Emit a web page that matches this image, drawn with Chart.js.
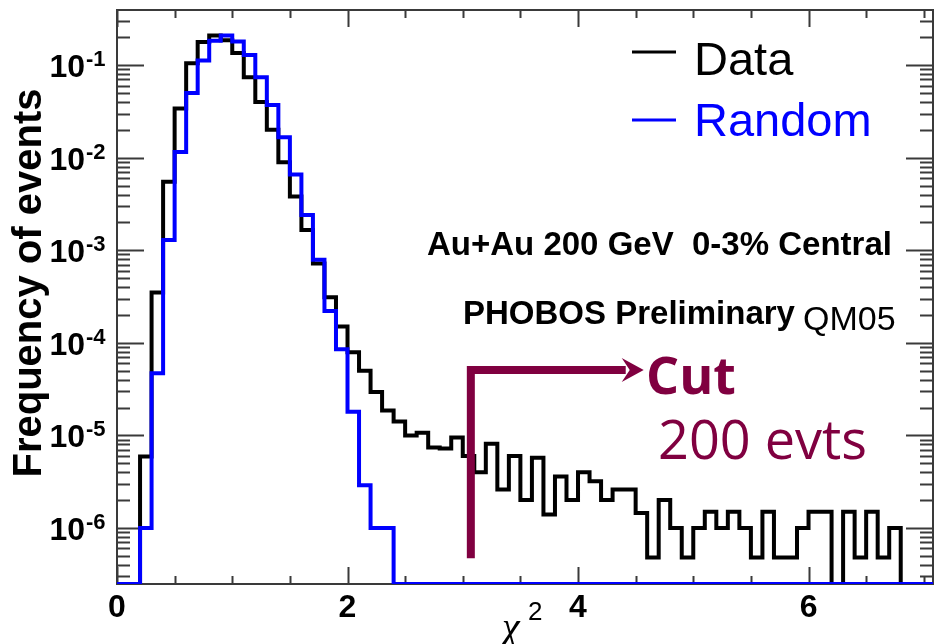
<!DOCTYPE html>
<html>
<head>
<meta charset="utf-8">
<script src="https://cdn.jsdelivr.net/npm/chart.js@4.4.0/dist/chart.umd.min.js"></script>
<style>
  html, body { margin: 0; padding: 0; background: #fff; }
  #wrap { width: 937px; height: 644px; }
</style>
</head>
<body>
<div id="wrap"><canvas id="chart" width="937" height="644"></canvas></div>
<script>
// Binning of the chi^2 histograms
const binWidth = 0.1;
const xMin = 0, xMax = 7.08;
const yMin = 2.48e-7, yMax = 0.394;

// Frequency of events per bin, bin i covers [i*0.1, (i+1)*0.1); 0 = empty bin
const dataValues = [
    0, 0, 5.9e-6, 3.5e-4, 5.5e-3, 3.4e-2, 0.105, 0.178, 0.209, 0.186,
    0.135, 0.074, 0.040, 0.020, 0.0089, 0.0038, 0.00166, 7.2e-4, 3.1e-4, 1.5e-4,
    7.9e-5, 5.0e-5, 2.95e-5, 1.86e-5, 1.41e-5, 1.0e-5, 1.07e-5, 7.4e-6, 7.2e-6, 9.5e-6,
    6.0e-6, 4.0e-6, 8.1e-6, 2.6e-6, 6.0e-6, 2.0e-6, 5.75e-6, 1.4e-6, 3.6e-6, 2.0e-6,
    4.0e-6, 3.2e-6, 2.0e-6, 2.6e-6, 2.6e-6, 1.45e-6, 4.8e-7, 2.0e-6, 1.0e-6, 4.8e-7,
    1.0e-6, 1.5e-6, 1.0e-6, 1.5e-6, 1.0e-6, 4.8e-7, 1.5e-6, 4.8e-7, 4.8e-7, 1.0e-6,
    1.5e-6, 1.5e-6, 0, 1.5e-6, 4.8e-7, 1.5e-6, 4.8e-7, 1.0e-6, 0, 0,
    0
];
const randomValues = [
    0, 0, 1.0e-6, 4.7e-5, 1.29e-3, 0.0115, 0.050, 0.112, 0.183, 0.209,
    0.180, 0.129, 0.074, 0.037, 0.0166, 0.0066, 0.0024, 7.9e-4, 2.2e-4, 8.5e-5,
    1.8e-5, 2.9e-6, 1.0e-6, 1.0e-6, 0, 0, 0, 0, 0, 0,
    0, 0, 0, 0, 0, 0, 0, 0, 0, 0,
    0, 0, 0, 0, 0, 0, 0, 0, 0, 0,
    0, 0, 0, 0, 0, 0, 0, 0, 0, 0,
    0, 0, 0, 0, 0, 0, 0, 0, 0, 0,
    0
];

// Axis ticks
const xTickLabels = [0, 2, 4, 6];
const xMinorStep = 0.5;
const yTickExponents = [-1, -2, -3, -4, -5, -6];

// Cut annotation (data coordinates)
const cutX = 3.07;
const cutTop = 5.1e-5;
const cutBottom = 4.7e-7;
const cutArrowTip = 4.57;

const MAROON = '#800040';

// Turn bin values into step points; empty bins sit on the axis floor
function toSteps(values) {
    const pts = values.map((v, i) => ({ x: i * binWidth, y: v > 0 ? v : yMin }));
    pts.push({ x: values.length * binWidth, y: pts[pts.length - 1].y });
    return pts;
}

// Frame with inward ticks on all four sides (ROOT style)
const framePlugin = {
    id: 'frame',
    beforeDatasetsDraw(chart) {
        const { ctx, chartArea: a, scales: { x, y } } = chart;
        ctx.save();
        ctx.strokeStyle = '#3a3a3a';
        ctx.lineWidth = 2;
        ctx.strokeRect(a.left, a.top, a.right - a.left, a.bottom - a.top);

        ctx.beginPath();
        for (let v = xMin; v <= xMax + 1e-9; v += xMinorStep) {
            const px = Math.round(x.getPixelForValue(v)) + 0.5;
            const major = Math.abs(v / 2 - Math.round(v / 2)) < 1e-6;
            const len = major ? 17 : 8;
            ctx.moveTo(px, a.bottom); ctx.lineTo(px, a.bottom - len);
            ctx.moveTo(px, a.top); ctx.lineTo(px, a.top + len);
        }
        for (let k = -7; k <= 0; k++) {
            for (let m = 1; m <= 9; m++) {
                const val = m * Math.pow(10, k);
                if (val < yMin || val > yMax) continue;
                const py = Math.round(y.getPixelForValue(val)) + 0.5;
                const len = m === 1 ? 27 : 13;
                ctx.moveTo(a.left, py); ctx.lineTo(a.left + len, py);
                ctx.moveTo(a.right, py); ctx.lineTo(a.right - len, py);
            }
        }
        ctx.stroke();
        ctx.restore();
    },
    afterDatasetsDraw(chart) {
        const { ctx, scales: { x, y } } = chart;
        ctx.save();

        // cut line + arrow
        const cx = x.getPixelForValue(cutX);
        const cy = y.getPixelForValue(cutTop);
        const cb = y.getPixelForValue(cutBottom);
        const tip = x.getPixelForValue(cutArrowTip);
        ctx.strokeStyle = MAROON;
        ctx.fillStyle = MAROON;
        ctx.lineWidth = 8;
        ctx.lineJoin = 'miter';
        ctx.lineCap = 'butt';
        ctx.beginPath();
        ctx.moveTo(tip - 18, cy);
        ctx.lineTo(cx, cy);
        ctx.lineTo(cx, cb);
        ctx.stroke();
        ctx.beginPath();
        ctx.moveTo(tip, cy);
        ctx.lineTo(tip - 22, cy - 12);
        ctx.lineTo(tip - 14, cy);
        ctx.lineTo(tip - 22, cy + 12);
        ctx.closePath();
        ctx.fill();

        ctx.font = 'bold 52px "Open Sans"';
        ctx.textBaseline = 'alphabetic';
        ctx.textAlign = 'left';
        ctx.fillText('Cut', 646, 394);
        ctx.font = '54px "Open Sans"';
        ctx.fillText('200 evts', 658, 459);
        ctx.restore();
    },
    afterDraw(chart) {
        const { ctx, scales: { x, y } } = chart;
        ctx.save();
        ctx.fillStyle = '#000';
        ctx.textBaseline = 'alphabetic';

        // x tick labels
        ctx.font = 'bold 32px "Liberation Sans"';
        ctx.textAlign = 'center';
        xTickLabels.forEach(v => ctx.fillText(String(v), x.getPixelForValue(v), 617));

        // y tick labels 10^k
        yTickExponents.forEach(k => {
            const py = y.getPixelForValue(Math.pow(10, k));
            ctx.font = 'bold 32px "Liberation Sans"';
            ctx.textAlign = 'right';
            ctx.fillText('10', 85, py + 12);
            ctx.font = 'bold 22px "Liberation Sans"';
            ctx.textAlign = 'left';
            ctx.fillText(String(k), 86, py + 1);
        });

        // axis titles
        ctx.font = 'italic 40px "Liberation Serif"';
        ctx.textAlign = 'left';
        ctx.fillText('\u03c7', 502, 640);
        ctx.font = '26px "Liberation Sans"';
        ctx.fillText('2', 528, 620);

        ctx.save();
        ctx.translate(41, 283);
        ctx.rotate(-Math.PI / 2);
        ctx.font = 'bold 40px "Liberation Sans"';
        ctx.textAlign = 'center';
        ctx.fillText('Frequency of events', 0, 0);
        ctx.restore();

        // legend
        ctx.lineWidth = 3;
        chart.data.datasets.forEach((ds, i) => {
            const ly = i === 0 ? 52 : 120;
            ctx.strokeStyle = ds.borderColor;
            ctx.beginPath();
            ctx.moveTo(632, ly); ctx.lineTo(676, ly);
            ctx.stroke();
            ctx.fillStyle = ds.borderColor;
            ctx.font = '47px "Liberation Sans"';
            ctx.fillText(ds.label, 694, i === 0 ? 75 : 136);
        });

        // labels
        ctx.fillStyle = '#000';
        ctx.font = 'bold 33px "Liberation Sans"';
        ctx.fillText('Au+Au 200 GeV  0-3% Central', 427, 255);
        ctx.fillText('PHOBOS Preliminary', 463, 324);
        ctx.font = '34px "Liberation Sans"';
        ctx.fillText('QM05', 803, 330);
        ctx.restore();
    }
};

const ctx = document.getElementById('chart').getContext('2d');
new Chart(ctx, {
    type: 'line',
    data: {
        datasets: [
            {
                label: 'Data',
                data: toSteps(dataValues),
                borderColor: '#000000',
                borderWidth: 4,
                stepped: true,
                pointRadius: 0,
                fill: false,
                borderJoinStyle: 'miter',
                order: 2
            },
            {
                label: 'Random',
                data: toSteps(randomValues),
                borderColor: '#0000ff',
                borderWidth: 4,
                stepped: true,
                pointRadius: 0,
                fill: false,
                borderJoinStyle: 'miter',
                order: 1
            }
        ]
    },
    options: {
        responsive: false,
        animation: false,
        layout: { padding: { left: 117, top: 10, right: 4, bottom: 60 } },
        scales: {
            x: { type: 'linear', min: xMin, max: xMax, display: false },
            y: { type: 'logarithmic', min: yMin, max: yMax, display: false }
        },
        plugins: {
            legend: { display: false },
            tooltip: { enabled: false }
        }
    },
    plugins: [framePlugin]
});
</script>
</body>
</html>
